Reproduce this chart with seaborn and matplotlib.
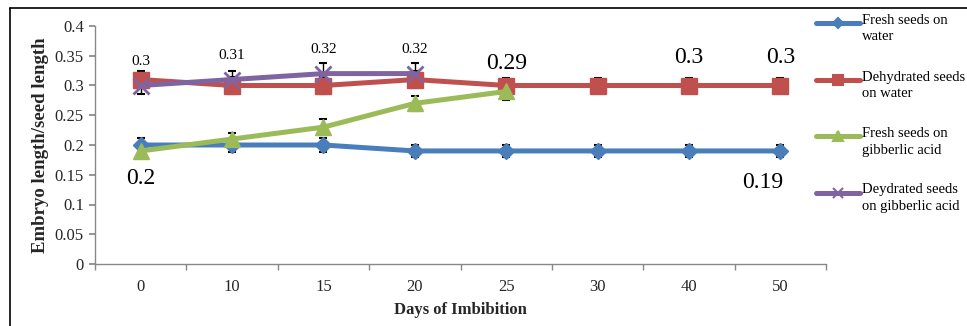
import matplotlib
matplotlib.use("Agg")
import matplotlib.pyplot as plt
import seaborn as sns
import pandas as pd
import numpy as np
from matplotlib.lines import Line2D

days = ["0", "10", "15", "20", "25", "30", "40", "50"]
fresh_water = [0.20, 0.20, 0.20, 0.19, 0.19, 0.19, 0.19, 0.19]
fresh_water_err = [0.011, 0.011, 0.011, 0.010, 0.010, 0.010, 0.010, 0.010]
dehyd_water = [0.31, 0.30, 0.30, 0.31, 0.30, 0.30, 0.30, 0.30]
dehyd_water_err = [0.015, 0.014, 0.014, 0.014, 0.013, 0.013, 0.013, 0.013]
fresh_ga = [0.19, 0.21, 0.23, 0.27, 0.29]
fresh_ga_err = [0.009, 0.011, 0.013, 0.013, 0.014]
dehyd_ga = [0.30, 0.31, 0.32, 0.32]
dehyd_ga_err = [0.014, 0.015, 0.017, 0.017]

names = ["Fresh seeds on\nwater", "Dehydrated seeds\non water",
         "Fresh seeds on\ngibberlic acid", "Deydrated seeds\non gibberlic acid"]
colors = ["#4A7EBB", "#C0504D", "#9BBB59", "#8064A2"]
markers = ["D", "s", "^", "x"]
msizes = [8.5, 11, 12, 11]
series = [fresh_water, dehyd_water, fresh_ga, dehyd_ga]
errs = [fresh_water_err, dehyd_water_err, fresh_ga_err, dehyd_ga_err]

sns.set_theme(style="white")
plt.rcParams['font.family'] = ['Liberation Serif', 'DejaVu Serif']

W, H = 967, 326
fig = plt.figure(figsize=(W / 100, H / 100), dpi=100)
ax = fig.add_axes([95/W, 1-264/H, (826-95)/W, (264-26)/H])

for name, vals, err, c, m, ms in zip(names, series, errs, colors, markers, msizes):
    df = pd.DataFrame({"pos": np.arange(len(vals)), "val": vals})
    ax.errorbar(np.arange(len(vals)), vals, yerr=err, fmt="none", ecolor="black",
                elinewidth=1, capsize=3, capthick=1.5, zorder=2)
    sns.lineplot(data=df, x="pos", y="val", ax=ax, color=c, linewidth=3.6,
                 marker=m, markersize=ms, markeredgecolor=c,
                 markeredgewidth=2 if m == "x" else 1, legend=False, zorder=3)

# data labels
small = dict(fontsize=11, ha="center", va="center", color="black")
for i, v in enumerate(dehyd_ga):
    ax.annotate(f"{v:g}", (i, v), xytext=(0, 17), textcoords="offset points", **small)
big = dict(fontsize=17, ha="center", va="center", color="black")
ax.annotate(f"{fresh_ga[4]:g}", (4, fresh_ga[4]), xytext=(0, 20), textcoords="offset points", **big)
ax.annotate(f"{dehyd_water[6]:g}", (6, dehyd_water[6]), xytext=(0, 20), textcoords="offset points", **big)
ax.annotate(f"{dehyd_water[7]:g}", (7, dehyd_water[7]), xytext=(0, 20), textcoords="offset points", **big)
ax.annotate(f"{fresh_water[0]:g}", (0, fresh_water[0]), xytext=(0, -24), textcoords="offset points", **big)
ax.annotate(f"{fresh_water[7]:g}", (7, fresh_water[7]), xytext=(-13, -23), textcoords="offset points", **big)

ax.set_xlim(-0.5, 7.5)
ax.set_ylim(0, 0.4)
yt = np.arange(0, 0.401, 0.05)
ax.set_yticks(yt)
ax.set_yticklabels([f"{t:g}" for t in yt])
ax.set_xticks(range(len(days)))
ax.set_xticklabels(days)
ax.set_xticks(np.arange(-0.5, 7.6, 1), minor=True)
ax.tick_params(axis="x", which="major", length=0, pad=11, labelsize=12)
ax.tick_params(axis="x", which="minor", length=4, color="#888888", direction="out", bottom=True)
ax.tick_params(axis="y", length=4, color="#888888", direction="out", left=True, labelsize=12, pad=4)
for s in ["top", "right"]:
    ax.spines[s].set_visible(False)
for s in ["left", "bottom"]:
    ax.spines[s].set_color("#888888")
    ax.spines[s].set_linewidth(1)
ax.set_xlabel("Days of Imbibition", fontsize=12, fontweight="bold", labelpad=5)
ax.set_ylabel("Embryo length/seed length", fontsize=13.5, fontweight="bold", labelpad=4)

# legend (drawn entry by entry to match spacing)
for i, (name, c, m, ms) in enumerate(zip(names, colors, markers, msizes)):
    y = 1 - (23 + 56.5 * i) / H
    fig.add_artist(Line2D([816/W, 860/W], [y, y], color=c, lw=3.6,
                          transform=fig.transFigure))
    fig.add_artist(Line2D([838/W], [y], color=c, marker=m, markersize=ms * 0.6,
                          markeredgecolor=c, markeredgewidth=1.5, lw=0,
                          transform=fig.transFigure))
    fig.text(862/W, y + 9/H, name, fontsize=10.5, ha="left", va="top",
             linespacing=1.35, color="black")

# outer frame (top and left)
fig.add_artist(Line2D([10/W, 10/W], [0, 1-8/H], color="black", lw=1.2, transform=fig.transFigure))
fig.add_artist(Line2D([10/W, 1], [1-8/H, 1-8/H], color="black", lw=1.2, transform=fig.transFigure))

fig.savefig("out.png", dpi=100)
